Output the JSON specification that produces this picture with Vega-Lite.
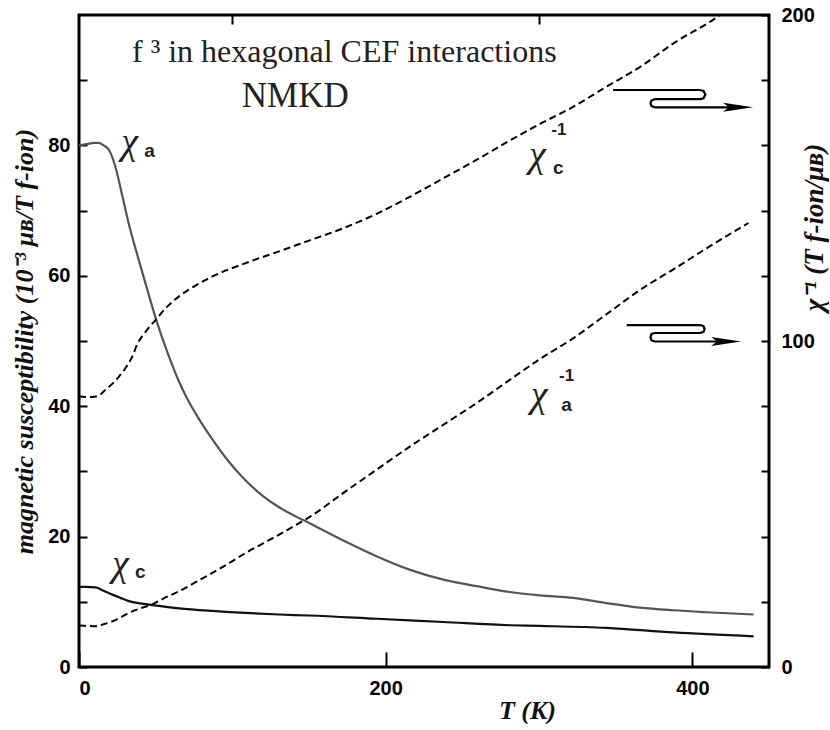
{
  "$schema": "https://vega.github.io/schema/vega-lite/v6.json",
  "width": 690,
  "height": 652,
  "autosize": "none",
  "padding": {"left": 79, "top": 15, "right": 61, "bottom": 63},
  "background": "white",
  "config": {
    "view": {"stroke": "black", "strokeWidth": 3},
    "axis": {
      "domain": false,
      "grid": false,
      "tickColor": "black",
      "tickWidth": 2,
      "labelFont": "Liberation Sans",
      "labelFontWeight": "bold",
      "labelFontSize": 20,
      "labelColor": "black",
      "titleFont": "Liberation Serif",
      "titleFontWeight": "bold",
      "titleFontStyle": "italic",
      "titleColor": "#111111"
    }
  },
  "datasets": {
    "chi": [
      {"s": "a", "T": 0, "v": 80.0}, {"s": "a", "T": 5, "v": 80.2}, {"s": "a", "T": 10, "v": 80.4}, {"s": "a", "T": 13, "v": 80.4},
      {"s": "a", "T": 16, "v": 80.0}, {"s": "a", "T": 19.6, "v": 79.3}, {"s": "a", "T": 24, "v": 76.5}, {"s": "a", "T": 28.3, "v": 72.2},
      {"s": "a", "T": 33, "v": 67.5}, {"s": "a", "T": 39, "v": 62.4}, {"s": "a", "T": 45, "v": 57.5}, {"s": "a", "T": 50, "v": 53.5},
      {"s": "a", "T": 54.4, "v": 50.4}, {"s": "a", "T": 60, "v": 46.8}, {"s": "a", "T": 65, "v": 43.9}, {"s": "a", "T": 70, "v": 41.4},
      {"s": "a", "T": 76, "v": 38.9}, {"s": "a", "T": 87, "v": 34.9}, {"s": "a", "T": 98, "v": 31.4}, {"s": "a", "T": 108.7, "v": 28.6},
      {"s": "a", "T": 119.6, "v": 26.3}, {"s": "a", "T": 130.5, "v": 24.5}, {"s": "a", "T": 141.3, "v": 23.1}, {"s": "a", "T": 150, "v": 22.1},
      {"s": "a", "T": 172.4, "v": 19.4}, {"s": "a", "T": 194, "v": 17.0}, {"s": "a", "T": 216, "v": 14.9}, {"s": "a", "T": 237.6, "v": 13.4},
      {"s": "a", "T": 259.4, "v": 12.4}, {"s": "a", "T": 281, "v": 11.5}, {"s": "a", "T": 300.7, "v": 11.0}, {"s": "a", "T": 322.5, "v": 10.6},
      {"s": "a", "T": 344, "v": 9.8}, {"s": "a", "T": 366, "v": 9.1}, {"s": "a", "T": 387.7, "v": 8.7}, {"s": "a", "T": 409.5, "v": 8.4},
      {"s": "a", "T": 440, "v": 8.05},
      {"s": "c", "T": 0, "v": 12.3}, {"s": "c", "T": 5, "v": 12.3}, {"s": "c", "T": 10.9, "v": 12.2}, {"s": "c", "T": 16, "v": 11.7},
      {"s": "c", "T": 21.7, "v": 11.1}, {"s": "c", "T": 27, "v": 10.6}, {"s": "c", "T": 32.6, "v": 10.1}, {"s": "c", "T": 40, "v": 9.75},
      {"s": "c", "T": 47.8, "v": 9.5}, {"s": "c", "T": 65.2, "v": 9.0}, {"s": "c", "T": 87, "v": 8.6}, {"s": "c", "T": 108.7, "v": 8.3},
      {"s": "c", "T": 130.5, "v": 8.05}, {"s": "c", "T": 150, "v": 7.9}, {"s": "c", "T": 194, "v": 7.4}, {"s": "c", "T": 237.6, "v": 6.9},
      {"s": "c", "T": 281, "v": 6.4}, {"s": "c", "T": 300.7, "v": 6.3}, {"s": "c", "T": 344, "v": 6.0}, {"s": "c", "T": 387.7, "v": 5.3},
      {"s": "c", "T": 440, "v": 4.7}
    ],
    "inv": [
      {"s": "a", "T": 0, "r": 12.7}, {"s": "a", "T": 5, "r": 12.6}, {"s": "a", "T": 10.9, "r": 12.5}, {"s": "a", "T": 16, "r": 13.1},
      {"s": "a", "T": 21.7, "r": 14.0}, {"s": "a", "T": 27, "r": 15.2}, {"s": "a", "T": 32.6, "r": 16.6}, {"s": "a", "T": 40, "r": 18.0},
      {"s": "a", "T": 47.8, "r": 19.2}, {"s": "a", "T": 55, "r": 21.0}, {"s": "a", "T": 65.2, "r": 23.2}, {"s": "a", "T": 76, "r": 26.0},
      {"s": "a", "T": 87, "r": 28.9}, {"s": "a", "T": 98, "r": 31.9}, {"s": "a", "T": 108.7, "r": 35.0}, {"s": "a", "T": 119.6, "r": 37.8},
      {"s": "a", "T": 130.5, "r": 40.6}, {"s": "a", "T": 140, "r": 43.2}, {"s": "a", "T": 150, "r": 45.9}, {"s": "a", "T": 172.4, "r": 53.4},
      {"s": "a", "T": 194, "r": 60.5}, {"s": "a", "T": 216, "r": 67.7}, {"s": "a", "T": 237.6, "r": 74.3}, {"s": "a", "T": 259.4, "r": 81.0},
      {"s": "a", "T": 281, "r": 88.1}, {"s": "a", "T": 300.7, "r": 94.5}, {"s": "a", "T": 322.5, "r": 100.9}, {"s": "a", "T": 344, "r": 108.2},
      {"s": "a", "T": 366, "r": 115.7}, {"s": "a", "T": 387.7, "r": 122.0}, {"s": "a", "T": 409.5, "r": 128.5}, {"s": "a", "T": 436.6, "r": 136.2},
      {"s": "c", "T": 0, "r": 83.0}, {"s": "c", "T": 8.7, "r": 82.8}, {"s": "c", "T": 13, "r": 83.3}, {"s": "c", "T": 17.4, "r": 85.1},
      {"s": "c", "T": 22, "r": 87.0}, {"s": "c", "T": 26.1, "r": 89.1}, {"s": "c", "T": 30, "r": 91.5}, {"s": "c", "T": 34.8, "r": 95.3},
      {"s": "c", "T": 38, "r": 99.0}, {"s": "c", "T": 44, "r": 103.2}, {"s": "c", "T": 50, "r": 106.5}, {"s": "c", "T": 57, "r": 110.3},
      {"s": "c", "T": 65.2, "r": 113.7}, {"s": "c", "T": 76, "r": 117.0}, {"s": "c", "T": 87, "r": 119.8}, {"s": "c", "T": 108.7, "r": 123.9},
      {"s": "c", "T": 130.5, "r": 127.5}, {"s": "c", "T": 150, "r": 130.8}, {"s": "c", "T": 172.4, "r": 134.6}, {"s": "c", "T": 194, "r": 139.0},
      {"s": "c", "T": 216, "r": 144.3}, {"s": "c", "T": 237.6, "r": 149.9}, {"s": "c", "T": 259.4, "r": 155.6}, {"s": "c", "T": 281, "r": 161.5},
      {"s": "c", "T": 300.7, "r": 166.6}, {"s": "c", "T": 322.5, "r": 171.9}, {"s": "c", "T": 344, "r": 178.0}, {"s": "c", "T": 366, "r": 184.1},
      {"s": "c", "T": 387.7, "r": 191.3}, {"s": "c", "T": 415, "r": 199.0}, {"s": "c", "T": 418, "r": 200.0}
    ],
    "arrows": [
      {"id": 1, "o": 1, "T": 348.3, "v": 88.5}, {"id": 1, "o": 2, "T": 405.0, "v": 88.5}, {"id": 1, "o": 3, "T": 407.3, "v": 88.34},
      {"id": 1, "o": 4, "T": 408.5, "v": 87.79}, {"id": 1, "o": 5, "T": 407.3, "v": 87.24}, {"id": 1, "o": 6, "T": 405.0, "v": 87.09},
      {"id": 1, "o": 7, "T": 375.7, "v": 87.09}, {"id": 1, "o": 8, "T": 373.4, "v": 86.89}, {"id": 1, "o": 9, "T": 372.7, "v": 86.47},
      {"id": 1, "o": 10, "T": 373.4, "v": 86.04}, {"id": 1, "o": 11, "T": 375.7, "v": 85.84}, {"id": 1, "o": 12, "T": 425.0, "v": 85.84},
      {"id": 2, "o": 1, "T": 357.2, "v": 52.45}, {"id": 2, "o": 2, "T": 405.0, "v": 52.45}, {"id": 2, "o": 3, "T": 407.3, "v": 52.27},
      {"id": 2, "o": 4, "T": 408.0, "v": 51.84}, {"id": 2, "o": 5, "T": 407.3, "v": 51.41}, {"id": 2, "o": 6, "T": 405.0, "v": 51.23},
      {"id": 2, "o": 7, "T": 375.7, "v": 51.23}, {"id": 2, "o": 8, "T": 373.4, "v": 51.10}, {"id": 2, "o": 9, "T": 372.7, "v": 50.58},
      {"id": 2, "o": 10, "T": 373.4, "v": 50.08}, {"id": 2, "o": 11, "T": 375.7, "v": 49.92}, {"id": 2, "o": 12, "T": 417.0, "v": 49.92}
    ],
    "heads": [
      {"T": 429.8, "v": 85.84},
      {"T": 422.0, "v": 49.92}
    ],
    "chis": [
      {"T": 33, "v": 80.3}, {"T": 27, "v": 15.7}, {"T": 299, "v": 78.3}, {"T": 300, "v": 41.6}
    ],
    "subs": [
      {"T": 46, "v": 79.2, "t": "a"}, {"T": 40, "v": 14.6, "t": "c"}, {"T": 312.5, "v": 76.5, "t": "c"}, {"T": 318, "v": 40.2, "t": "a"}
    ],
    "sups": [
      {"T": 313, "v": 82.4, "t": "-1"}, {"T": 318, "v": 44.7, "t": "-1"}
    ],
    "titles": [
      {"T": 173, "v": 94.3, "t": "f ³ in hexagonal CEF interactions", "k": "1"},
      {"T": 141, "v": 87.6, "t": "NMKD", "k": "2"}
    ]
  },
  "layer": [
    {
      "layer": [
        {
          "data": {"name": "chi"},
          "transform": [{"filter": "datum.s === 'a'"}],
          "mark": {"type": "line", "color": "#555555", "strokeWidth": 2.2, "interpolate": "monotone"},
          "encoding": {
            "x": {"field": "T", "type": "quantitative", "scale": {"domain": [0, 450], "nice": false},
              "axis": {"values": [0, 200, 400], "tickSize": -15, "labelPadding": 26, "title": "T (K)", "titleFontSize": 26, "titleX": 448, "titleY": 30, "titleBaseline": "top"}},
            "y": {"field": "v", "type": "quantitative", "scale": {"domain": [0, 100], "nice": false},
              "axis": {"orient": "left", "values": [0, 10, 20, 30, 40, 50, 60, 70, 80, 90], "labelExpr": "datum.value % 20 === 0 ? datum.label : ''", "tickSize": -8, "labelPadding": 17, "title": "magnetic susceptibility (10⁻³ μʙ/T f-ion)", "titleFontSize": 26, "titleX": -47, "titleBaseline": "alphabetic"}}
          }
        },
        {
          "data": {"name": "chi"},
          "transform": [{"filter": "datum.s === 'c'"}],
          "mark": {"type": "line", "color": "#111111", "strokeWidth": 2.2, "interpolate": "monotone"},
          "encoding": {"x": {"field": "T", "type": "quantitative"}, "y": {"field": "v", "type": "quantitative"}}
        },
        {
          "data": {"name": "titles"},
          "transform": [{"filter": "datum.k === '1'"}],
          "mark": {"type": "text", "font": "Liberation Serif", "fontSize": 32, "color": "#222222", "align": "center", "baseline": "middle"},
          "encoding": {"x": {"field": "T", "type": "quantitative"}, "y": {"field": "v", "type": "quantitative"}, "text": {"field": "t"}}
        },
        {
          "data": {"name": "titles"},
          "transform": [{"filter": "datum.k === '2'"}],
          "mark": {"type": "text", "font": "Liberation Serif", "fontSize": 35, "color": "#222222", "align": "center", "baseline": "middle"},
          "encoding": {"x": {"field": "T", "type": "quantitative"}, "y": {"field": "v", "type": "quantitative"}, "text": {"field": "t"}}
        },
        {
          "data": {"name": "chis"},
          "mark": {"type": "text", "text": "χ", "font": "Liberation Serif", "fontStyle": "italic", "fontSize": 38, "color": "#222222", "align": "center", "baseline": "middle"},
          "encoding": {"x": {"field": "T", "type": "quantitative"}, "y": {"field": "v", "type": "quantitative"}}
        },
        {
          "data": {"name": "subs"},
          "mark": {"type": "text", "font": "Liberation Sans", "fontWeight": "bold", "fontSize": 19, "color": "#222222", "align": "center", "baseline": "middle"},
          "encoding": {"x": {"field": "T", "type": "quantitative"}, "y": {"field": "v", "type": "quantitative"}, "text": {"field": "t"}}
        },
        {
          "data": {"name": "sups"},
          "mark": {"type": "text", "font": "Liberation Sans", "fontWeight": "bold", "fontSize": 17, "color": "#222222", "align": "center", "baseline": "middle"},
          "encoding": {"x": {"field": "T", "type": "quantitative"}, "y": {"field": "v", "type": "quantitative"}, "text": {"field": "t"}}
        },
        {
          "data": {"name": "arrows"},
          "mark": {"type": "line", "color": "black", "strokeWidth": 2.2},
          "encoding": {"x": {"field": "T", "type": "quantitative"}, "y": {"field": "v", "type": "quantitative"}, "order": {"field": "o", "type": "quantitative"}, "detail": {"field": "id"}}
        },
        {
          "data": {"name": "heads"},
          "mark": {"type": "point", "shape": "M1,0L-1,-0.3L-0.6,0L-1,0.3Z", "filled": true, "color": "black", "opacity": 1, "size": 900},
          "encoding": {"x": {"field": "T", "type": "quantitative"}, "y": {"field": "v", "type": "quantitative"}}
        }
      ]
    },
    {
      "data": {"name": "inv"},
      "mark": {"type": "line", "color": "black", "strokeWidth": 2, "strokeDash": [7, 4], "interpolate": "monotone"},
      "encoding": {
        "x": {"field": "T", "type": "quantitative", "axis": {"values": [100, 300], "tickSize": -9, "labels": false, "title": null}},
        "y": {"field": "r", "type": "quantitative", "scale": {"domain": [0, 200], "nice": false},
          "axis": {"orient": "right", "values": [0, 20, 40, 60, 80, 100, 120, 140, 160, 180, 200], "labelExpr": "datum.value % 100 === 0 ? datum.label : ''", "tickSize": -8, "labelPadding": 20, "title": "χ⁻¹ (T f-ion/μʙ)", "titleFontSize": 27, "titleAngle": -90, "titleX": 53, "titleY": 212, "titleBaseline": "alphabetic"}},
        "detail": {"field": "s"}
      }
    }
  ],
  "resolve": {"scale": {"y": "independent"}, "axis": {"x": "independent"}}
}
